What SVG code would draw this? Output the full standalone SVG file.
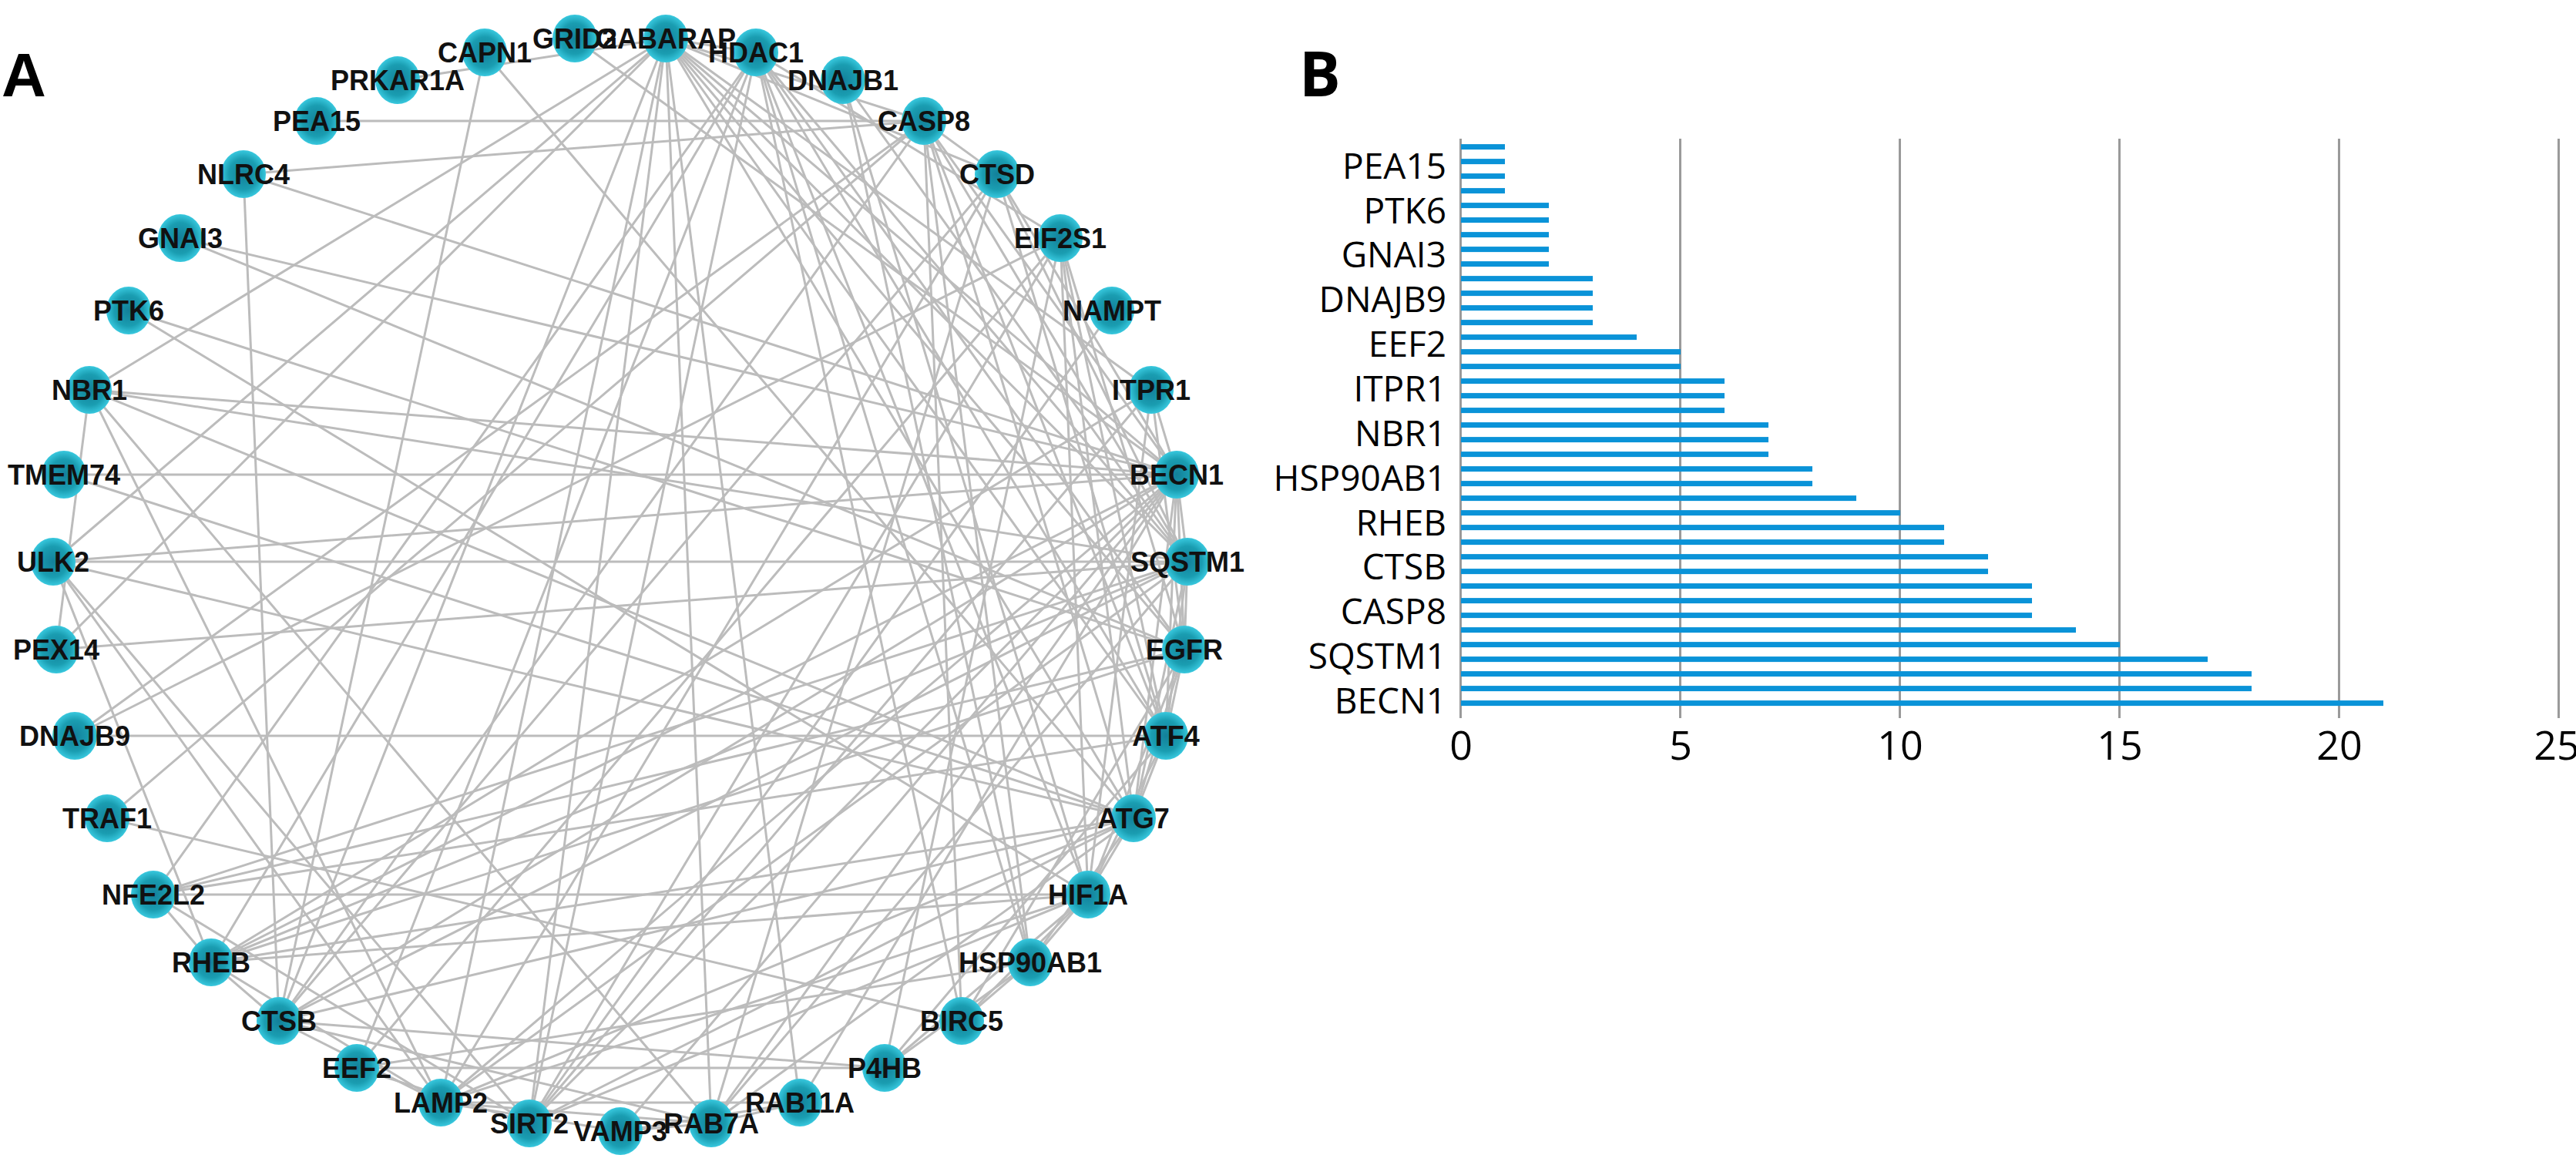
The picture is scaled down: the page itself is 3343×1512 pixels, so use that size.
<svg xmlns="http://www.w3.org/2000/svg" width="3343" height="1512" viewBox="0 0 3343 1512">
<style>
.e line{stroke:#bcbcbc;stroke-width:3;stroke-linecap:round}
.n ellipse{fill:url(#ng)}
.n text{font-family:"Liberation Sans",Arial,sans-serif;font-weight:bold;font-size:36px;fill:#111;text-anchor:middle}
.bar{fill:#0a93d8}
.grid{stroke:#9a9a9a;stroke-width:3}
.cat{font-family:"Open Sans","Noto Sans",sans-serif;font-size:46px;fill:#000;text-anchor:end}
.tick{font-family:"Open Sans","Noto Sans",sans-serif;font-size:52px;fill:#000;text-anchor:middle}
.panel{font-weight:bold;font-size:80px;fill:#000}
</style>
<defs>
<radialGradient id="ng" cx="50%" cy="50%" r="50%">
<stop offset="0%" stop-color="#13809a"/>
<stop offset="65%" stop-color="#1a9db1"/>
<stop offset="100%" stop-color="#38c8de"/>
</radialGradient>
</defs>
<rect width="3343" height="1512" fill="#fff"/>
<text class="panel" x="2" y="125" font-family="Liberation Sans, Arial, sans-serif">A</text>
<text class="panel" x="1686" y="125" font-family="Open Sans, Noto Sans, sans-serif">B</text>
<g id="connectors" class="e">
<line x1="411" y1="157" x2="1199" y2="157"/>
<line x1="1443" y1="403" x2="687" y2="1458"/>
<line x1="746" y1="50" x2="1527" y2="616"/>
<line x1="516" y1="104" x2="864" y2="50"/>
<line x1="629" y1="68" x2="1471" y2="1062"/>
<line x1="629" y1="68" x2="362" y2="1325"/>
<line x1="83" y1="616" x2="1527" y2="616"/>
<line x1="83" y1="616" x2="1471" y2="1062"/>
<line x1="139" y1="1062" x2="1199" y2="157"/>
<line x1="139" y1="1062" x2="1248" y2="1325"/>
<line x1="234" y1="309" x2="1537" y2="843"/>
<line x1="234" y1="309" x2="1527" y2="616"/>
<line x1="167" y1="403" x2="1537" y2="843"/>
<line x1="167" y1="403" x2="1412" y2="1161"/>
<line x1="97" y1="955" x2="1513" y2="955"/>
<line x1="97" y1="955" x2="1376" y2="309"/>
<line x1="97" y1="955" x2="1199" y2="157"/>
<line x1="316" y1="226" x2="1199" y2="157"/>
<line x1="316" y1="226" x2="1527" y2="616"/>
<line x1="316" y1="226" x2="362" y2="1325"/>
<line x1="1094" y1="104" x2="1337" y2="1249"/>
<line x1="1094" y1="104" x2="1541" y2="729"/>
<line x1="1094" y1="104" x2="1412" y2="1161"/>
<line x1="73" y1="843" x2="1541" y2="729"/>
<line x1="73" y1="843" x2="116" y2="506"/>
<line x1="73" y1="843" x2="864" y2="50"/>
<line x1="805" y1="1468" x2="1038" y2="1431"/>
<line x1="805" y1="1468" x2="572" y2="1431"/>
<line x1="805" y1="1468" x2="923" y2="1458"/>
<line x1="805" y1="1468" x2="1527" y2="616"/>
<line x1="463" y1="1386" x2="1148" y2="1386"/>
<line x1="463" y1="1386" x2="1337" y2="1249"/>
<line x1="463" y1="1386" x2="1376" y2="309"/>
<line x1="463" y1="1386" x2="687" y2="1458"/>
<line x1="463" y1="1386" x2="981" y2="68"/>
<line x1="1038" y1="1431" x2="923" y2="1458"/>
<line x1="1038" y1="1431" x2="572" y2="1431"/>
<line x1="1038" y1="1431" x2="1527" y2="616"/>
<line x1="1038" y1="1431" x2="864" y2="50"/>
<line x1="1494" y1="506" x2="1527" y2="616"/>
<line x1="1494" y1="506" x2="1537" y2="843"/>
<line x1="1494" y1="506" x2="1412" y2="1161"/>
<line x1="1494" y1="506" x2="274" y2="1249"/>
<line x1="1494" y1="506" x2="687" y2="1458"/>
<line x1="1494" y1="506" x2="864" y2="50"/>
<line x1="1248" y1="1325" x2="1199" y2="157"/>
<line x1="1248" y1="1325" x2="1337" y2="1249"/>
<line x1="1248" y1="1325" x2="1537" y2="843"/>
<line x1="1248" y1="1325" x2="1412" y2="1161"/>
<line x1="1248" y1="1325" x2="981" y2="68"/>
<line x1="1148" y1="1386" x2="1337" y2="1249"/>
<line x1="1148" y1="1386" x2="362" y2="1325"/>
<line x1="1148" y1="1386" x2="1513" y2="955"/>
<line x1="1148" y1="1386" x2="1376" y2="309"/>
<line x1="1148" y1="1386" x2="1412" y2="1161"/>
<line x1="116" y1="506" x2="1541" y2="729"/>
<line x1="116" y1="506" x2="864" y2="50"/>
<line x1="116" y1="506" x2="1471" y2="1062"/>
<line x1="116" y1="506" x2="1527" y2="616"/>
<line x1="116" y1="506" x2="572" y2="1431"/>
<line x1="116" y1="506" x2="923" y2="1458"/>
<line x1="199" y1="1161" x2="1541" y2="729"/>
<line x1="199" y1="1161" x2="1412" y2="1161"/>
<line x1="199" y1="1161" x2="1513" y2="955"/>
<line x1="199" y1="1161" x2="1537" y2="843"/>
<line x1="199" y1="1161" x2="981" y2="68"/>
<line x1="199" y1="1161" x2="687" y2="1458"/>
<line x1="199" y1="1161" x2="274" y2="1249"/>
<line x1="69" y1="729" x2="1541" y2="729"/>
<line x1="69" y1="729" x2="1527" y2="616"/>
<line x1="69" y1="729" x2="1471" y2="1062"/>
<line x1="69" y1="729" x2="864" y2="50"/>
<line x1="69" y1="729" x2="274" y2="1249"/>
<line x1="69" y1="729" x2="572" y2="1431"/>
<line x1="69" y1="729" x2="687" y2="1458"/>
<line x1="1337" y1="1249" x2="1412" y2="1161"/>
<line x1="1337" y1="1249" x2="981" y2="68"/>
<line x1="1337" y1="1249" x2="1199" y2="157"/>
<line x1="1337" y1="1249" x2="1471" y2="1062"/>
<line x1="1294" y1="226" x2="362" y2="1325"/>
<line x1="1294" y1="226" x2="572" y2="1431"/>
<line x1="1294" y1="226" x2="1199" y2="157"/>
<line x1="1294" y1="226" x2="1527" y2="616"/>
<line x1="1294" y1="226" x2="1541" y2="729"/>
<line x1="1294" y1="226" x2="864" y2="50"/>
<line x1="1294" y1="226" x2="923" y2="1458"/>
<line x1="1294" y1="226" x2="1513" y2="955"/>
<line x1="1376" y1="309" x2="1513" y2="955"/>
<line x1="1376" y1="309" x2="1537" y2="843"/>
<line x1="1376" y1="309" x2="1412" y2="1161"/>
<line x1="1376" y1="309" x2="687" y2="1458"/>
<line x1="1376" y1="309" x2="981" y2="68"/>
<line x1="1376" y1="309" x2="1471" y2="1062"/>
<line x1="923" y1="1458" x2="572" y2="1431"/>
<line x1="923" y1="1458" x2="864" y2="50"/>
<line x1="923" y1="1458" x2="1527" y2="616"/>
<line x1="923" y1="1458" x2="1541" y2="729"/>
<line x1="923" y1="1458" x2="1471" y2="1062"/>
<line x1="923" y1="1458" x2="362" y2="1325"/>
<line x1="687" y1="1458" x2="981" y2="68"/>
<line x1="687" y1="1458" x2="1471" y2="1062"/>
<line x1="687" y1="1458" x2="1412" y2="1161"/>
<line x1="687" y1="1458" x2="1527" y2="616"/>
<line x1="687" y1="1458" x2="864" y2="50"/>
<line x1="274" y1="1249" x2="1471" y2="1062"/>
<line x1="274" y1="1249" x2="1527" y2="616"/>
<line x1="274" y1="1249" x2="1412" y2="1161"/>
<line x1="274" y1="1249" x2="1537" y2="843"/>
<line x1="274" y1="1249" x2="1541" y2="729"/>
<line x1="274" y1="1249" x2="572" y2="1431"/>
<line x1="274" y1="1249" x2="362" y2="1325"/>
<line x1="274" y1="1249" x2="981" y2="68"/>
<line x1="981" y1="68" x2="1412" y2="1161"/>
<line x1="981" y1="68" x2="1541" y2="729"/>
<line x1="981" y1="68" x2="1513" y2="955"/>
<line x1="981" y1="68" x2="1537" y2="843"/>
<line x1="981" y1="68" x2="864" y2="50"/>
<line x1="362" y1="1325" x2="572" y2="1431"/>
<line x1="362" y1="1325" x2="1199" y2="157"/>
<line x1="362" y1="1325" x2="1527" y2="616"/>
<line x1="362" y1="1325" x2="1541" y2="729"/>
<line x1="362" y1="1325" x2="1471" y2="1062"/>
<line x1="362" y1="1325" x2="864" y2="50"/>
<line x1="572" y1="1431" x2="864" y2="50"/>
<line x1="572" y1="1431" x2="1527" y2="616"/>
<line x1="572" y1="1431" x2="1541" y2="729"/>
<line x1="572" y1="1431" x2="1471" y2="1062"/>
<line x1="572" y1="1431" x2="1412" y2="1161"/>
<line x1="1513" y1="955" x2="1412" y2="1161"/>
<line x1="1513" y1="955" x2="1471" y2="1062"/>
<line x1="1513" y1="955" x2="1527" y2="616"/>
<line x1="1513" y1="955" x2="1541" y2="729"/>
<line x1="1513" y1="955" x2="1199" y2="157"/>
<line x1="1513" y1="955" x2="1537" y2="843"/>
<line x1="1513" y1="955" x2="864" y2="50"/>
<line x1="1199" y1="157" x2="1527" y2="616"/>
<line x1="1199" y1="157" x2="1541" y2="729"/>
<line x1="1199" y1="157" x2="1471" y2="1062"/>
<line x1="1199" y1="157" x2="864" y2="50"/>
<line x1="1537" y1="843" x2="1527" y2="616"/>
<line x1="1537" y1="843" x2="1541" y2="729"/>
<line x1="1537" y1="843" x2="1412" y2="1161"/>
<line x1="1537" y1="843" x2="1471" y2="1062"/>
<line x1="1537" y1="843" x2="864" y2="50"/>
<line x1="1412" y1="1161" x2="1471" y2="1062"/>
<line x1="1541" y1="729" x2="1527" y2="616"/>
<line x1="1541" y1="729" x2="864" y2="50"/>
<line x1="1541" y1="729" x2="1471" y2="1062"/>
<line x1="1527" y1="616" x2="864" y2="50"/>
<line x1="1527" y1="616" x2="1471" y2="1062"/>
<line x1="864" y1="50" x2="1471" y2="1062"/>
</g>
<g id="nodes" class="n">
<g id="node-VAMP3"><ellipse cx="805" cy="1468" rx="29" ry="31"/><text x="805" y="1481">VAMP3</text></g>
<g id="node-RAB7A"><ellipse cx="923" cy="1458" rx="29" ry="31"/><text x="923" y="1471">RAB7A</text></g>
<g id="node-RAB11A"><ellipse cx="1038" cy="1431" rx="29" ry="31"/><text x="1038" y="1444">RAB11A</text></g>
<g id="node-P4HB"><ellipse cx="1148" cy="1386" rx="29" ry="31"/><text x="1148" y="1399">P4HB</text></g>
<g id="node-BIRC5"><ellipse cx="1248" cy="1325" rx="29" ry="31"/><text x="1248" y="1338">BIRC5</text></g>
<g id="node-HSP90AB1"><ellipse cx="1337" cy="1249" rx="29" ry="31"/><text x="1337" y="1262">HSP90AB1</text></g>
<g id="node-HIF1A"><ellipse cx="1412" cy="1161" rx="29" ry="31"/><text x="1412" y="1174">HIF1A</text></g>
<g id="node-ATG7"><ellipse cx="1471" cy="1062" rx="29" ry="31"/><text x="1471" y="1075">ATG7</text></g>
<g id="node-ATF4"><ellipse cx="1513" cy="955" rx="29" ry="31"/><text x="1513" y="968">ATF4</text></g>
<g id="node-EGFR"><ellipse cx="1537" cy="843" rx="29" ry="31"/><text x="1537" y="856">EGFR</text></g>
<g id="node-SQSTM1"><ellipse cx="1541" cy="729" rx="29" ry="31"/><text x="1541" y="742">SQSTM1</text></g>
<g id="node-BECN1"><ellipse cx="1527" cy="616" rx="29" ry="31"/><text x="1527" y="629">BECN1</text></g>
<g id="node-ITPR1"><ellipse cx="1494" cy="506" rx="29" ry="31"/><text x="1494" y="519">ITPR1</text></g>
<g id="node-NAMPT"><ellipse cx="1443" cy="403" rx="29" ry="31"/><text x="1443" y="416">NAMPT</text></g>
<g id="node-EIF2S1"><ellipse cx="1376" cy="309" rx="29" ry="31"/><text x="1376" y="322">EIF2S1</text></g>
<g id="node-CTSD"><ellipse cx="1294" cy="226" rx="29" ry="31"/><text x="1294" y="239">CTSD</text></g>
<g id="node-CASP8"><ellipse cx="1199" cy="157" rx="29" ry="31"/><text x="1199" y="170">CASP8</text></g>
<g id="node-DNAJB1"><ellipse cx="1094" cy="104" rx="29" ry="31"/><text x="1094" y="117">DNAJB1</text></g>
<g id="node-HDAC1"><ellipse cx="981" cy="68" rx="29" ry="31"/><text x="981" y="81">HDAC1</text></g>
<g id="node-GABARAP"><ellipse cx="864" cy="50" rx="29" ry="31"/><text x="864" y="63">GABARAP</text></g>
<g id="node-GRID2"><ellipse cx="746" cy="50" rx="29" ry="31"/><text x="746" y="63">GRID2</text></g>
<g id="node-CAPN1"><ellipse cx="629" cy="68" rx="29" ry="31"/><text x="629" y="81">CAPN1</text></g>
<g id="node-PRKAR1A"><ellipse cx="516" cy="104" rx="29" ry="31"/><text x="516" y="117">PRKAR1A</text></g>
<g id="node-PEA15"><ellipse cx="411" cy="157" rx="29" ry="31"/><text x="411" y="170">PEA15</text></g>
<g id="node-NLRC4"><ellipse cx="316" cy="226" rx="29" ry="31"/><text x="316" y="239">NLRC4</text></g>
<g id="node-GNAI3"><ellipse cx="234" cy="309" rx="29" ry="31"/><text x="234" y="322">GNAI3</text></g>
<g id="node-PTK6"><ellipse cx="167" cy="403" rx="29" ry="31"/><text x="167" y="416">PTK6</text></g>
<g id="node-NBR1"><ellipse cx="116" cy="506" rx="29" ry="31"/><text x="116" y="519">NBR1</text></g>
<g id="node-TMEM74"><ellipse cx="83" cy="616" rx="29" ry="31"/><text x="83" y="629">TMEM74</text></g>
<g id="node-ULK2"><ellipse cx="69" cy="729" rx="29" ry="31"/><text x="69" y="742">ULK2</text></g>
<g id="node-PEX14"><ellipse cx="73" cy="843" rx="29" ry="31"/><text x="73" y="856">PEX14</text></g>
<g id="node-DNAJB9"><ellipse cx="97" cy="955" rx="29" ry="31"/><text x="97" y="968">DNAJB9</text></g>
<g id="node-TRAF1"><ellipse cx="139" cy="1062" rx="29" ry="31"/><text x="139" y="1075">TRAF1</text></g>
<g id="node-NFE2L2"><ellipse cx="199" cy="1161" rx="29" ry="31"/><text x="199" y="1174">NFE2L2</text></g>
<g id="node-RHEB"><ellipse cx="274" cy="1249" rx="29" ry="31"/><text x="274" y="1262">RHEB</text></g>
<g id="node-CTSB"><ellipse cx="362" cy="1325" rx="29" ry="31"/><text x="362" y="1338">CTSB</text></g>
<g id="node-EEF2"><ellipse cx="463" cy="1386" rx="29" ry="31"/><text x="463" y="1399">EEF2</text></g>
<g id="node-LAMP2"><ellipse cx="572" cy="1431" rx="29" ry="31"/><text x="572" y="1444">LAMP2</text></g>
<g id="node-SIRT2"><ellipse cx="687" cy="1458" rx="29" ry="31"/><text x="687" y="1471">SIRT2</text></g>
</g>
<g id="chart">
<g id="gridlines">
<line class="grid" x1="1895.5" y1="180" x2="1895.5" y2="932"/>
<line class="grid" x1="2180.5" y1="180" x2="2180.5" y2="932"/>
<line class="grid" x1="2465.5" y1="180" x2="2465.5" y2="932"/>
<line class="grid" x1="2750.5" y1="180" x2="2750.5" y2="932"/>
<line class="grid" x1="3035.5" y1="180" x2="3035.5" y2="932"/>
<line class="grid" x1="3320.5" y1="180" x2="3320.5" y2="932"/>
</g>
<g id="bars">
<rect class="bar" x="1896" y="187.1" width="57" height="7"/>
<rect class="bar" x="1896" y="206.1" width="57" height="7"/>
<rect class="bar" x="1896" y="225.1" width="57" height="7"/>
<rect class="bar" x="1896" y="244.1" width="57" height="7"/>
<rect class="bar" x="1896" y="263.1" width="114" height="7"/>
<rect class="bar" x="1896" y="282.1" width="114" height="7"/>
<rect class="bar" x="1896" y="301.1" width="114" height="7"/>
<rect class="bar" x="1896" y="320.1" width="114" height="7"/>
<rect class="bar" x="1896" y="339.1" width="114" height="7"/>
<rect class="bar" x="1896" y="358.1" width="171" height="7"/>
<rect class="bar" x="1896" y="377.1" width="171" height="7"/>
<rect class="bar" x="1896" y="396.1" width="171" height="7"/>
<rect class="bar" x="1896" y="415.1" width="171" height="7"/>
<rect class="bar" x="1896" y="434.1" width="228" height="7"/>
<rect class="bar" x="1896" y="453.1" width="285" height="7"/>
<rect class="bar" x="1896" y="472.1" width="285" height="7"/>
<rect class="bar" x="1896" y="491.1" width="342" height="7"/>
<rect class="bar" x="1896" y="510.1" width="342" height="7"/>
<rect class="bar" x="1896" y="529.1" width="342" height="7"/>
<rect class="bar" x="1896" y="548.1" width="399" height="7"/>
<rect class="bar" x="1896" y="567.1" width="399" height="7"/>
<rect class="bar" x="1896" y="586.1" width="399" height="7"/>
<rect class="bar" x="1896" y="605.1" width="456" height="7"/>
<rect class="bar" x="1896" y="624.1" width="456" height="7"/>
<rect class="bar" x="1896" y="643.1" width="513" height="7"/>
<rect class="bar" x="1896" y="662.1" width="570" height="7"/>
<rect class="bar" x="1896" y="681.1" width="627" height="7"/>
<rect class="bar" x="1896" y="700.1" width="627" height="7"/>
<rect class="bar" x="1896" y="719.1" width="684" height="7"/>
<rect class="bar" x="1896" y="738.1" width="684" height="7"/>
<rect class="bar" x="1896" y="757.1" width="741" height="7"/>
<rect class="bar" x="1896" y="776.1" width="741" height="7"/>
<rect class="bar" x="1896" y="795.1" width="741" height="7"/>
<rect class="bar" x="1896" y="814.1" width="798" height="7"/>
<rect class="bar" x="1896" y="833.1" width="855" height="7"/>
<rect class="bar" x="1896" y="852.1" width="969" height="7"/>
<rect class="bar" x="1896" y="871.1" width="1026" height="7"/>
<rect class="bar" x="1896" y="890.1" width="1026" height="7"/>
<rect class="bar" x="1896" y="909.1" width="1197" height="7"/>
</g>
<g id="category-labels">
<text class="cat" x="1877" y="231.7">PEA15</text>
<text class="cat" x="1877" y="289.6">PTK6</text>
<text class="cat" x="1877" y="347.4">GNAI3</text>
<text class="cat" x="1877" y="405.3">DNAJB9</text>
<text class="cat" x="1877" y="463.1">EEF2</text>
<text class="cat" x="1877" y="521">ITPR1</text>
<text class="cat" x="1877" y="578.8">NBR1</text>
<text class="cat" x="1877" y="636.7">HSP90AB1</text>
<text class="cat" x="1877" y="694.5">RHEB</text>
<text class="cat" x="1877" y="752.4">CTSB</text>
<text class="cat" x="1877" y="810.2">CASP8</text>
<text class="cat" x="1877" y="868.1">SQSTM1</text>
<text class="cat" x="1877" y="925.9">BECN1</text>
</g>
<g id="tick-labels">
<text class="tick" x="1896" y="985.5">0</text>
<text class="tick" x="2181" y="985.5">5</text>
<text class="tick" x="2466" y="985.5">10</text>
<text class="tick" x="2751" y="985.5">15</text>
<text class="tick" x="3036" y="985.5">20</text>
<text class="tick" x="3318" y="985.5">25</text>
</g>
</g>
</svg>
